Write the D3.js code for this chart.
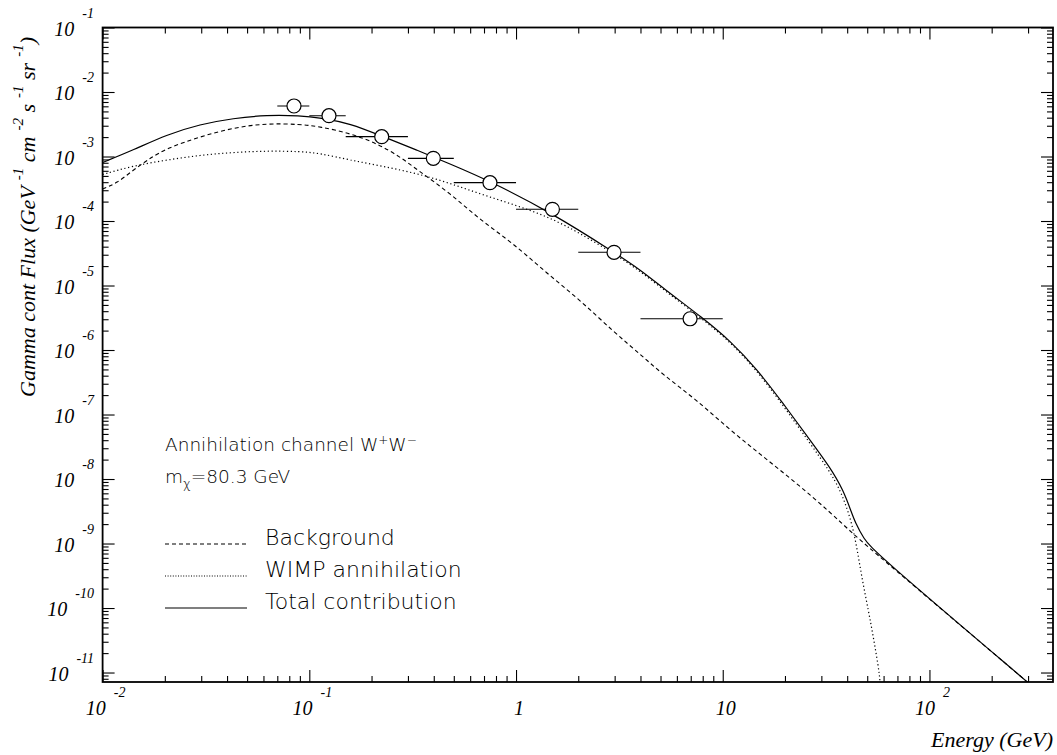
<!DOCTYPE html>
<html><head><meta charset="utf-8">
<script src="https://cdn.jsdelivr.net/npm/d3@7"></script>
<style>body{margin:0;background:#fff}svg{display:block}</style>
</head><body>
<svg id="chart" width="1057" height="755"></svg>
<script>
// ---- data ----
const totalE = [0.01, 0.01408, 0.0204, 0.0296, 0.0429, 0.0622, 0.0902, 0.1127, 0.1574, 0.2274, 0.331, 0.480, 0.748, 1.49, 2.95, 3.98, 5.16, 8.05, 10.85, 14.6, 19.6, 26.4, 33.0, 38.3, 42.1, 43.6, 47.9, 54.6, 298];
const totalF = [8.07e-4, 1.26e-3, 2.18e-3, 3.16e-3, 3.91e-3, 4.40e-3, 4.29e-3, 4.00e-3, 3.27e-3, 2.03e-3, 1.26e-3, 7.66e-4, 4.17e-4, 1.33e-4, 3.34e-5, 1.77e-5, 9.05e-6, 3.10e-6, 1.40e-6, 5.10e-7, 1.49e-7, 4.03e-8, 1.53e-8, 6.75e-9, 2.94e-9, 2.18e-9, 1.20e-9, 7.20e-10, 7.1e-12];

const bgE = [0.01, 0.0117, 0.01408, 0.01696, 0.0204, 0.0296, 0.0429, 0.0622, 0.0902, 0.1127, 0.1574, 0.212, 0.2747, 0.331, 0.480, 0.670, 0.970, 1.408, 2.04, 2.96, 3.98, 5.16, 7.48, 10.85, 15.7, 22.8, 33.0, 42.8, 54.6, 298];
const bgF = [3.13e-4, 3.84e-4, 6.18e-4, 9.38e-4, 1.34e-3, 2.03e-3, 2.80e-3, 3.27e-3, 3.16e-3, 2.90e-3, 2.29e-3, 1.60e-3, 9.93e-4, 6.29e-4, 2.70e-4, 1.04e-4, 4.51e-5, 1.55e-5, 5.96e-6, 1.92e-6, 8.67e-7, 4.10e-7, 1.68e-7, 5.75e-8, 2.22e-8, 8.57e-9, 3.08e-9, 1.40e-9, 7.15e-10, 7.1e-12];

const wimpE = [0.01, 0.01408, 0.0204, 0.0296, 0.0429, 0.0622, 0.0902, 0.1127, 0.1574, 0.228, 0.331, 0.480, 0.695, 1.008, 1.46, 2.04, 2.96, 3.98, 5.16, 8.05, 10.85, 14.6, 19.6, 26.4, 33.0, 36.9, 39.4, 42.1, 44.5, 47.0, 50.6, 53.5, 56.6, 57.7, 58.6];
const wimpF = [5.26e-4, 7.20e-4, 8.82e-4, 1.05e-3, 1.16e-3, 1.22e-3, 1.20e-3, 1.12e-3, 8.82e-4, 7.0e-4, 5.49e-4, 3.84e-4, 2.53e-4, 1.74e-4, 1.13e-4, 6.45e-5, 3.15e-5, 1.68e-5, 8.64e-6, 2.96e-6, 1.34e-6, 4.85e-7, 1.38e-7, 3.6e-8, 1.31e-8, 6.75e-9, 3.95e-9, 2.06e-9, 8.91e-10, 3.06e-10, 9.31e-11, 3.59e-11, 1.23e-11, 7.65e-12, 3.0e-12];

const dataE   = [0.0843, 0.1245, 0.224, 0.398, 0.748, 1.50, 2.98, 6.95];
const dataELo = [0.07, 0.10, 0.15, 0.30, 0.50, 1.0, 2.0, 4.0];
const dataEHi = [0.10, 0.15, 0.30, 0.50, 1.0, 2.0, 4.0, 10.0];
const dataF   = [6.07e-3, 4.29e-3, 2.03e-3, 9.37e-4, 3.93e-4, 1.52e-4, 3.27e-5, 3.05e-6];

const xMajorTicks = [0.01, 0.1, 1, 10, 100];
const xTickLabels = ["10^-2", "10^-1", "1", "10", "10^2"];
const yMajorTicks = [1e-1, 1e-2, 1e-3, 1e-4, 1e-5, 1e-6, 1e-7, 1e-8, 1e-9, 1e-10, 1e-11];
const yTickLabels = ["10^-1", "10^-2", "10^-3", "10^-4", "10^-5", "10^-6", "10^-7", "10^-8", "10^-9", "10^-10", "10^-11"];
const xDomain = [0.01, 396];
const yDomain = [0.1, 7.13e-12];

const legendLabels = ["Background", "WIMP annihilation", "Total contribution"];
const legendDash = ["4,3", "1,1.6", null];

// ---- layout ----
const L = 102.6, R = 1053, T = 27.5, B = 682;
const svg = d3.select("#chart");
const x = d3.scaleLog().domain(xDomain).range([L, R]);
const y = d3.scaleLog().domain(yDomain).range([T, B]);

function minors(domain) {
  const lo = Math.min(...domain), hi = Math.max(...domain);
  const out = [];
  for (let e = Math.floor(Math.log10(lo)) ; e <= Math.ceil(Math.log10(hi)); e++) {
    for (let k = 2; k <= 9; k++) {
      const v = k * Math.pow(10, e);
      if (v >= lo * 0.9999 && v <= hi * 1.0001) out.push(v);
    }
  }
  return out;
}
const xMinor = minors(xDomain), yMinor = minors(yDomain);

function addAxis(axisFn, scale, vals, size, transform) {
  const g = svg.append("g").attr("transform", transform)
    .call(axisFn(scale).tickValues(vals).tickSize(size).tickSizeOuter(0).tickFormat(""));
  g.select(".domain").remove();
  g.selectAll(".tick line").attr("stroke", "#000").attr("stroke-width", 1.1);
}
addAxis(d3.axisBottom, x, xMajorTicks, -12, `translate(0,${B})`);
addAxis(d3.axisBottom, x, xMinor, -6, `translate(0,${B})`);
addAxis(d3.axisTop, x, xMajorTicks, -12, `translate(0,${T})`);
addAxis(d3.axisTop, x, xMinor, -6, `translate(0,${T})`);
addAxis(d3.axisLeft, y, yMajorTicks, -12, `translate(${L},0)`);
addAxis(d3.axisLeft, y, yMinor, -6, `translate(${L},0)`);
addAxis(d3.axisRight, y, yMajorTicks, -12, `translate(${R},0)`);
addAxis(d3.axisRight, y, yMinor, -6, `translate(${R},0)`);

svg.append("rect").attr("x", L).attr("y", T).attr("width", R - L).attr("height", B - T)
  .attr("fill", "none").attr("stroke", "#000").attr("stroke-width", 1.8);

svg.append("clipPath").attr("id", "clip").append("rect")
  .attr("x", L).attr("y", T).attr("width", R - L).attr("height", B - T);

const line = d3.line().x(d => x(d[0])).y(d => y(d[1])).curve(d3.curveBasis);
const plot = svg.append("g").attr("clip-path", "url(#clip)");
function drawCurve(E, F, dash, w) {
  plot.append("path").datum(E.map((e, i) => [e, F[i]]))
    .attr("d", line).attr("fill", "none").attr("stroke", "#000")
    .attr("stroke-width", w).attr("stroke-dasharray", dash);
}
drawCurve(bgE, bgF, "4,3", 1.1);
drawCurve(wimpE, wimpF, "1.2,2.6", 1.2);
drawCurve(totalE, totalF, null, 1.2);

const pts = dataE.map((e, i) => ({e, lo: dataELo[i], hi: dataEHi[i], f: dataF[i]}));
plot.selectAll(".eb").data(pts).enter().append("line")
  .attr("x1", d => x(d.lo)).attr("x2", d => x(d.hi))
  .attr("y1", d => y(d.f)).attr("y2", d => y(d.f))
  .attr("stroke", "#000").attr("stroke-width", 1.1);
plot.selectAll(".pt").data(pts).enter().append("circle")
  .attr("cx", d => x(d.e)).attr("cy", d => y(d.f)).attr("r", 7)
  .attr("fill", "#fff").attr("stroke", "#000").attr("stroke-width", 1.2);

const serif = "'Liberation Serif', 'Times New Roman', serif";
function powLabel(px, py, label, anchor, dx) {
  const [b, e] = label.split("^");
  const t = svg.append("text").attr("x", px).attr("y", py)
    .attr("text-anchor", anchor).attr("font-family", serif).attr("font-style", "italic")
    .attr("font-size", 20).attr("fill", "#000");
  if (dx) t.attr("dx", dx);
  t.append("tspan").text(b);
  if (e !== undefined) {
    t.append("tspan").attr("dx", 8).attr("dy", -18).attr("font-size", 14).text(e);
  }
}
yMajorTicks.forEach((v, i) => powLabel(94, y(v) + 8, yTickLabels[i], "end"));
xMajorTicks.forEach((v, i) => powLabel(x(v), 715, xTickLabels[i], "middle", 3));

svg.append("text").attr("x", R).attr("y", 747).attr("text-anchor", "end")
  .attr("font-family", serif).attr("font-style", "italic").attr("font-size", 22)
  .text("Energy (GeV)");

const yt = svg.append("text").attr("transform", "translate(35,37) rotate(-90)")
  .attr("text-anchor", "end").attr("font-family", serif).attr("font-style", "italic")
  .attr("font-size", 22);
const ytParts = [["Gamma cont Flux (GeV", 0], ["-1", 1], [" cm", 0], ["-2", 1], [" s", 0], ["-1", 1], [" sr", 0], ["-1", 1], [")", 0]];
let raised = false;
ytParts.forEach(([s, sup]) => {
  const ts = yt.append("tspan").text(s);
  if (sup) { ts.attr("font-size", 15).attr("dy", -12).attr("dx", 6); raised = true; }
  else if (raised) { ts.attr("dy", 12); raised = false; }
});

const sans = "'DejaVu Sans', sans-serif";
const a1 = svg.append("text").attr("x", 165).attr("y", 451).attr("font-family", sans)
  .attr("font-weight", 200).attr("font-size", 18.5).attr("fill", "#000");
a1.append("tspan").text("Annihilation channel W");
a1.append("tspan").attr("dy", -7).attr("font-size", 12).text("+");
a1.append("tspan").attr("dy", 7).text("W");
a1.append("tspan").attr("dy", -7).attr("font-size", 12).text("\u2212");
const a2 = svg.append("text").attr("x", 165).attr("y", 483).attr("font-family", sans)
  .attr("font-weight", 200).attr("font-size", 18.5).attr("fill", "#000");
a2.append("tspan").text("m");
a2.append("tspan").attr("dy", 5).attr("font-size", 13).text("\u03c7");
a2.append("tspan").attr("dy", -5).text("=80.3 GeV");

const legY = [544, 576, 608];
legendLabels.forEach((lab, i) => {
  svg.append("line").attr("x1", 165).attr("x2", 247).attr("y1", legY[i]).attr("y2", legY[i])
    .attr("stroke", "#000").attr("stroke-width", 1.1).attr("stroke-dasharray", legendDash[i]);
  svg.append("text").attr("x", 265).attr("y", legY[i] + 1).attr("font-family", sans)
    .attr("font-weight", 200).attr("font-size", 22).attr("fill", "#000").text(lab);
});
</script>
</body></html>
